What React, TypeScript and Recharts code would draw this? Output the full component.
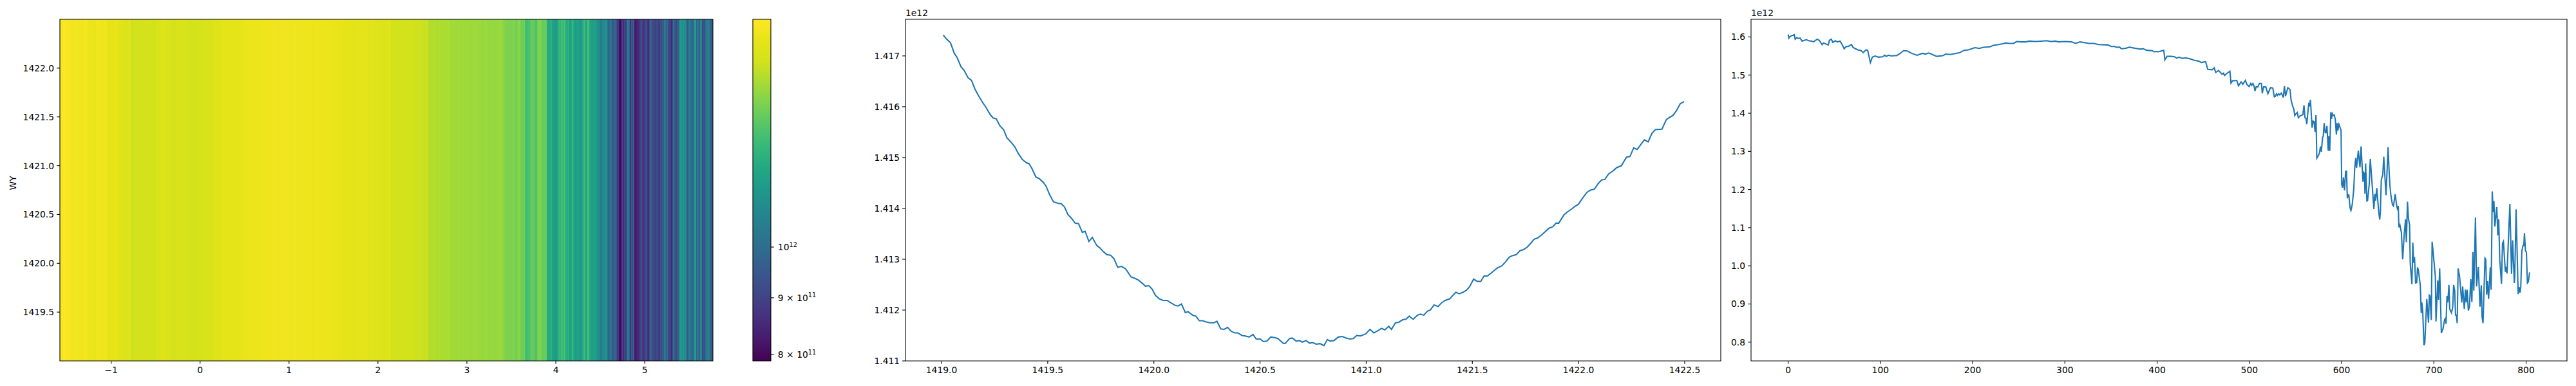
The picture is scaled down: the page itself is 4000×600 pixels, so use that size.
import React from "react";
import { ComposedChart, Line, XAxis, YAxis, ReferenceArea } from "recharts";

const FONT = "DejaVu Sans";
const FS = 13.89;
const BLUE = "#1f77b4";

// Right-hand panel: [index, value in 1e12]
const curveHead: [number, number][] = [
  [0,1.606],[0.8,1.597],[1.9,1.601],[6.6,1.606],[7.7,1.594],[9.4,1.598],[11.2,1.596],[12.9,1.597],[15.2,1.589],[19.8,1.593],[22.2,1.59],[25.7,1.589],[27.5,1.587],[31.5,1.594],[33.8,1.591],[36.8,1.58],[38.4,1.584],[43.6,1.579],[44.7,1.591],[46.8,1.594],[48.5,1.586],[51.2,1.59],[53.6,1.587],[56.4,1.589],[58.7,1.579],[60.8,1.569],[62.9,1.575],[65.2,1.575],[68.7,1.58],[70.3,1.573],[72.9,1.569],[75.7,1.566],[79.2,1.564],[81.5,1.559],[84.3,1.566],[86.2,1.565],[89.2,1.533],[91.3,1.547],[94.3,1.55],[97.8,1.547],[102.4,1.548],[104.8,1.552],[106.4,1.549],[108.7,1.552],[111.8,1.55],[115.2,1.551],[117.6,1.551],[121.1,1.556],[125.2,1.564],[129.2,1.563],[133.9,1.557],[139.7,1.552],[145.5,1.557],[149,1.555],[152.5,1.558],[157.1,1.553],[161.1,1.549],[167.6,1.551],[171.1,1.555],[175.7,1.554],[180.4,1.556],[186.2,1.559],[190.9,1.565],[195.5,1.566],[202.5,1.572],[207.2,1.57],[211.8,1.573],[218.8,1.574],[222.3,1.578],[228.1,1.58],
];
const curveCrest: [number, number][] = [
  [232.7,1.582],[236.2,1.584],[239.7,1.583],[244.3,1.583],[247.8,1.588],[252.5,1.587],[257.1,1.587],[261.8,1.589],[267.6,1.588],[274.6,1.589],[279.9,1.59],[285.1,1.588],[289.7,1.589],[293.2,1.587],[300.2,1.588],[307.2,1.587],[311.8,1.583],[316.5,1.587],[321.1,1.585],[325.8,1.583],[331.6,1.583],[336.3,1.58],[346.7,1.579],[350.2,1.575],[353.7,1.575],[356,1.573],[359.5,1.573],[361.1,1.569],[365.3,1.57],[370,1.573],[377,1.57],[381.6,1.568],[385.1,1.569],[388.6,1.565],[394.4,1.564],[396.8,1.561],[399.1,1.562],[401.4,1.561],[407.2,1.565],[408.4,1.54],[410.7,1.549],[415.4,1.549],[418.9,1.548],[421.2,1.544],[423.5,1.547],[427,1.544],[431.7,1.545],[436.3,1.542],[439.8,1.539],[445.6,1.536],[447.9,1.533],[452.6,1.535],[454.9,1.515],[459.6,1.514],[461.9,1.519],[463.5,1.507],[466.6,1.512],[470.1,1.503],[471.9,1.505],[473.1,1.499],[475.9,1.505],[478.9,1.51],[480.1,1.479],[481.7,1.485],[486.3,1.486],[488.2,1.472],[491,1.482],[492.9,1.476],[495.7,1.486],
];
const curveFall: [number, number][] = [
  [497.5,1.475],[499.8,1.47],[501.5,1.478],[502.6,1.473],[503.8,1.478],[505,1.472],[506.1,1.458],[507.3,1.469],[509.2,1.469],[510.8,1.478],[513.1,1.478],[514,1.452],[515.4,1.469],[517.8,1.469],[520.1,1.451],[522.9,1.467],[525.4,1.466],[527.1,1.443],[528.2,1.444],[529.4,1.451],[530.6,1.447],[531.7,1.451],[532.9,1.448],[534.7,1.453],[536.8,1.441],[538,1.471],[539.2,1.445],[541.7,1.467],[544.1,1.462],[545.2,1.435],[546.8,1.419],[548,1.413],[549.2,1.394],[550.3,1.398],[552,1.402],[553.1,1.388],[555,1.393],[558,1.396],[559.2,1.421],[560.3,1.388],[561.3,1.387],[562.2,1.371],[564.3,1.424],[565.2,1.421],[566.2,1.435],[568,1.362],[569,1.379],[570.1,1.378],[571.3,1.351],[572.2,1.395],[573.1,1.282],[574.8,1.289],[575.9,1.295],[577.1,1.313],[578,1.299],[579.4,1.337],[580.1,1.34],[581.1,1.374],[582.2,1.349],[583.2,1.349],[584.1,1.367],[585.5,1.302],[586.2,1.34],[587.1,1.301],[588.3,1.403],[589,1.385],[589.9,1.399],[590.8,1.394],[592,1.396],[593.2,1.383],[594.3,1.344],[595.2,1.374],[595.9,1.355],[597.1,1.371],[598,1.365],[599.4,1.355],[600.1,1.213],[601.1,1.205],[602,1.232],[603.2,1.198],[604.3,1.247],[605.3,1.248],[606.2,1.177],[606.9,1.186],[607.8,1.186],[609.2,1.152],[610.1,1.145],[611.5,1.16],[613.2,1.202],[614.1,1.253],[615.3,1.283],[616.2,1.257],[618.1,1.302],[619.9,1.258],[621.1,1.313],[623.2,1.22],[624.1,1.244],[624.8,1.241],[625.3,1.189],[626,1.268],[627.4,1.17],[628.1,1.171],[629.9,1.213],[631.1,1.28],[632.9,1.219],[635,1.149],[636,1.188],[636.9,1.171],[638.1,1.204],[639.2,1.171],[640.4,1.138],[641.3,1.121],[642,1.14],[643,1.225],[644.6,1.239],[645.7,1.286],
];
const curveNoisy: [number, number][] = [
  [648.1,1.185],[650.4,1.311],[651.6,1.2415],[652.3,1.213],[653.4,1.185],[655.1,1.16],[656.2,1.157],[658.1,1.188],[659.7,1.157],[660.9,1.146],[661.4,1.157],[662.1,1.101],[663.2,1.107],[664.8,1.087],[666.2,1.017],[667.9,1.084],[669.3,1.122],[670.2,1.062],[671.4,1.168],[672.5,1.123],[673.7,1.107],[674.4,1.006],[676.2,0.952],[677.2,1.061],[678.1,1.008],[679,1.023],[680.2,0.955],[681.4,0.956],[682.3,0.996],[683.2,0.989],[685.3,0.949],[686.3,0.876],[686.95,0.904],[687.9,0.882],[689.3,0.792],[690.2,0.798],[692.3,0.913],[694.2,0.851],[695.1,0.923],[695.8,0.921],[697.2,0.858],[698.1,1.063],[699.3,1.034],[701.6,0.972],[702.3,0.854],[704.2,0.962],[705.1,0.911],[706.3,0.993],[708.1,0.824],[709.8,0.834],[711.6,0.859],[712.5,0.862],[713.2,0.848],[714.2,0.921],[715.1,0.904],[716.3,0.95],[717.2,0.887],[719.1,0.877],[720.5,0.893],[721.4,0.95],[722.6,0.935],[723.5,0.871],[724.4,0.871],[725.3,0.85],[726.3,0.993],[727.9,0.972],[730.2,0.904],[731.2,0.946],[733,0.887],[734.2,0.938],[735.1,0.904],[736.1,0.937],[737.4,0.883],[738.6,0.893],[740,0.965],[741.2,0.905],[742.3,1.036],[743.3,0.935],[745.1,1.127],[746.3,0.946],[748.2,0.997],[750,0.893],[751.4,0.949],[752.3,0.865],[753.3,0.85],[755.4,1.02],[756.3,1.017],[757.2,0.924],[758.2,0.96],[759.3,0.913],[761.2,0.996],[762.1,0.937],[763.3,1.195],[764.2,1.141],[765.1,1.17],[766.1,1.103],[768.2,1.154],[769.3,1.08],[770.3,1.122],[771.4,1.017],[773.3,0.953],[774.4,1.059],[775.4,1.064],[777.5,0.984],[778.2,0.997],[779.3,0.98],[782.4,1.162],[784.2,0.979],[785.4,1.067],[787.2,0.955],[787.7,0.972],[789.1,1.148],[791.4,0.926],[792.6,0.944],[793.5,0.93],[794.2,0.944],[795.4,1.039],[796.6,1.053],[797.5,1.053],[798.2,1.086],[799.3,1.039],[800.3,1.036],[801.4,0.955],[802.4,0.958],[803.8,0.983],
];

// Middle panel: [WY, value in 1e12]
const wyDescent: [number, number][] = [
  [1419.008,1.41741],[1419.026,1.41732],[1419.042,1.41726],[1419.06,1.41705],[1419.073,1.41697],[1419.091,1.41679],[1419.107,1.41671],[1419.125,1.41657],[1419.141,1.41652],[1419.157,1.41635],[1419.175,1.41621],[1419.191,1.4161],[1419.209,1.41599],[1419.23,1.41584],[1419.243,1.41578],[1419.258,1.41576],[1419.274,1.41563],[1419.292,1.41555],[1419.308,1.41539],[1419.326,1.41531],[1419.345,1.41521],[1419.363,1.41507],[1419.381,1.41496],[1419.399,1.4149],[1419.412,1.41488],[1419.425,1.41479],[1419.444,1.41462],[1419.462,1.41458],[1419.48,1.41451],[1419.493,1.41443],[1419.509,1.41427],[1419.527,1.41413],[1419.548,1.4141],[1419.564,1.41409],[1419.579,1.41403],[1419.595,1.41388],[1419.613,1.4138],[1419.629,1.41371],[1419.645,1.4137],[1419.663,1.41353],[1419.676,1.41355],[1419.694,1.41335],[1419.71,1.41343],[1419.731,1.41327],[1419.744,1.41323],[1419.762,1.41315],[1419.778,1.41309],[1419.796,1.41308],[1419.812,1.41301],[1419.83,1.41284],[1419.848,1.41286],[1419.867,1.41281],[1419.893,1.41265],[1419.908,1.41263],[1419.927,1.41259],[1419.945,1.41253],[1419.96,1.41247],[1419.976,1.41248],[1419.992,1.41241],
];
const wyTrough: [number, number][] = [
  [1420.007,1.41229],[1420.026,1.41222],[1420.044,1.41219],[1420.062,1.41219],[1420.081,1.41214],[1420.101,1.41209],[1420.114,1.41208],[1420.13,1.41212],[1420.148,1.41195],[1420.161,1.41197],[1420.182,1.4119],[1420.198,1.41188],[1420.214,1.41179],[1420.229,1.41179],[1420.245,1.41177],[1420.263,1.41175],[1420.282,1.41175],[1420.297,1.41178],[1420.315,1.41163],[1420.331,1.41162],[1420.347,1.41166],[1420.365,1.41158],[1420.381,1.41155],[1420.396,1.41155],[1420.415,1.4115],[1420.43,1.41149],[1420.449,1.41147],[1420.467,1.41152],[1420.482,1.41143],[1420.501,1.41143],[1420.516,1.41138],[1420.532,1.41139],[1420.55,1.41147],[1420.569,1.41146],[1420.584,1.41144],[1420.608,1.41135],[1420.618,1.41134],[1420.639,1.41144],[1420.652,1.41145],[1420.67,1.41139],[1420.686,1.4114],[1420.699,1.41137],[1420.717,1.4114],[1420.733,1.41135],[1420.749,1.41136],[1420.764,1.41133],[1420.783,1.41134],[1420.801,1.4113],[1420.817,1.41142],[1420.83,1.41139],[1420.848,1.4114],[1420.869,1.41147],[1420.887,1.41148],[1420.906,1.41145],[1420.924,1.41143],[1420.939,1.41144],[1420.955,1.4115],[1420.973,1.41149],[1420.997,1.41153],
];
const wyAscent: [number, number][] = [
  [1421.018,1.41162],[1421.036,1.41155],[1421.057,1.4116],[1421.072,1.41164],[1421.088,1.41161],[1421.106,1.41168],[1421.119,1.41162],[1421.138,1.41175],[1421.153,1.41176],[1421.172,1.41181],[1421.187,1.41182],[1421.203,1.41188],[1421.221,1.41182],[1421.242,1.4119],[1421.255,1.41192],[1421.271,1.4119],[1421.289,1.41198],[1421.302,1.412],[1421.32,1.4121],[1421.339,1.41207],[1421.354,1.41214],[1421.372,1.41219],[1421.393,1.41222],[1421.422,1.41235],[1421.438,1.41232],[1421.456,1.41235],[1421.472,1.41239],[1421.487,1.41246],[1421.506,1.41261],[1421.521,1.41257],[1421.539,1.41256],[1421.555,1.41267],[1421.571,1.41267],[1421.589,1.41273],[1421.618,1.41283],[1421.639,1.41287],[1421.657,1.41295],[1421.673,1.41304],[1421.688,1.41307],[1421.707,1.41309],[1421.725,1.41317],[1421.741,1.41319],[1421.759,1.41324],[1421.774,1.41331],[1421.79,1.41339],[1421.808,1.41342],[1421.827,1.41348],[1421.845,1.41355],[1421.861,1.41361],[1421.879,1.41364],[1421.894,1.41371],[1421.907,1.41371],[1421.931,1.41387],[1421.947,1.41393],[1421.965,1.41398],[1421.983,1.41404],[1421.999,1.41408],
  [1422.022,1.41422],[1422.041,1.41432],[1422.056,1.41436],[1422.075,1.41438],[1422.093,1.41449],[1422.109,1.41456],[1422.124,1.41457],[1422.142,1.41468],[1422.161,1.41473],[1422.179,1.4148],[1422.202,1.41484],[1422.226,1.41501],[1422.242,1.41502],[1422.26,1.41519],[1422.276,1.41516],[1422.294,1.41526],[1422.31,1.41535],[1422.328,1.41531],[1422.346,1.41548],[1422.362,1.41555],[1422.393,1.41556],[1422.414,1.41575],[1422.429,1.41579],[1422.445,1.41583],[1422.461,1.41592],[1422.479,1.41606],[1422.497,1.4161],
];

// Colour map and colour bar
const viridisStops = ["#440154","#481a6c","#472f7d","#414487","#39568c","#31688e","#2a788e","#23888e","#1f988b","#22a884","#35b779","#54c568","#7ad151","#a5db36","#d2e21b","#e7e419","#fde725"];
const COLOR_MIN = 0.7894e12;
const COLOR_MAX = 1.605e12;
const colorbarTicks = [8e11, 9e11, 1e12];
const colorbarLabels = ["8 × 10", "9 × 10", "10"];
const colorbarExponents = ["11", "11", "12"];
// The right-hand curve's value and the colour position the same column shows in the heat map
const heatCurveLevels = [0.7894, 1.0, 1.15, 1.21, 1.3, 1.39, 1.44, 1.48, 1.515, 1.535, 1.55, 1.57, 1.59, 1.606];
const heatColourLevels = [0, 0.333, 0.51, 0.56, 0.66, 0.75, 0.785, 0.805, 0.83, 0.865, 0.88, 0.925, 0.965, 1];

// Axes
const heatXTicks = [-1, 0, 1, 2, 3, 4, 5];
const heatYTicks = [1419.5, 1420, 1420.5, 1421, 1421.5, 1422];
const wyXTicks = [1419, 1419.5, 1420, 1420.5, 1421, 1421.5, 1422, 1422.5];
const wyYTicks = [1.411, 1.412, 1.413, 1.414, 1.415, 1.416, 1.417];
const idxXTicks = [0, 100, 200, 300, 400, 500, 600, 700, 800];
const idxYTicks = [0.8, 0.9, 1.0, 1.1, 1.2, 1.3, 1.4, 1.5, 1.6];

const THETA_MIN = -1.576;
const THETA_MAX = 5.766;
const COLUMN_COUNT = 804;

const curvePoints = [...curveHead, ...curveCrest, ...curveFall, ...curveNoisy];
const curveRows = curvePoints.map(([i, v]) => ({ i, v }));
const wyRows = [...wyDescent, ...wyTrough, ...wyAscent].map(([wy, v]) => ({ wy, v }));

const hexToRgb = (h: string) => [1, 3, 5].map((k) => parseInt(h.slice(k, k + 2), 16));
function viridis(t: number) {
  const c = Math.min(1, Math.max(0, t)) * (viridisStops.length - 1);
  const a = Math.floor(c);
  const b = Math.min(viridisStops.length - 1, a + 1);
  const f = c - a;
  const A = hexToRgb(viridisStops[a]);
  const B = hexToRgb(viridisStops[b]);
  return `rgb(${A.map((x, k) => Math.round(x + (B[k] - x) * f)).join(",")})`;
}
function colourPosition(v: number) {
  for (let k = 1; k < heatCurveLevels.length; k++) {
    if (v <= heatCurveLevels[k]) {
      const f = (v - heatCurveLevels[k - 1]) / (heatCurveLevels[k] - heatCurveLevels[k - 1]);
      return heatColourLevels[k - 1] + f * (heatColourLevels[k] - heatColourLevels[k - 1]);
    }
  }
  return 1;
}
const toTheta = (i: number) => THETA_MIN + (i / COLUMN_COUNT) * (THETA_MAX - THETA_MIN);
const stripes = curvePoints.map(([i, v], k) => {
  const prev = k > 0 ? (curvePoints[k - 1][0] + i) / 2 : 0;
  const next = k < curvePoints.length - 1 ? (curvePoints[k + 1][0] + i) / 2 + 0.8 : COLUMN_COUNT;
  return {
    x1: toTheta(prev),
    x2: Math.min(THETA_MAX, toTheta(next)),
    fill: viridis(colourPosition(v)),
  };
});

const tickStyle = { fontFamily: FONT, fontSize: FS, fill: "#000" };
const lineStyle = { stroke: "#000", strokeWidth: 1.1 };
const TICK = 4.86;
const HEIGHT = 600;
const TOP = 30;
const XH = 39;

const OffsetText = ({ x }: { x: number }) => (
  <text x={x} y={25} fontFamily={FONT} fontSize={FS} fill="#000">1e12</text>
);

const Frame = ({ children, left, width }: any) => (
  <div style={{ position: "absolute", left, top: 0, width, height: HEIGHT }}>{children}</div>
);

const axisProps = {
  tick: tickStyle,
  tickLine: lineStyle,
  axisLine: false,
  tickSize: TICK,
  tickMargin: 4,
  interval: 0 as const,
  allowDataOverflow: true,
};

const ColorbarTick = ({ x, y, payload, index }: any) => {
  const k = colorbarTicks.indexOf(payload.value);
  return (
    <text x={x + 2} y={y + 5} fontFamily={FONT} fontSize={FS} fill="#000" key={index}>
      <tspan>{colorbarLabels[k]}</tspan>
      <tspan dy={-5.5} fontSize={9.7}>{colorbarExponents[k]}</tspan>
    </text>
  );
};

export default function App() {
  return (
    <div style={{ position: "absolute", left: 0, top: 0, width: 4000, height: HEIGHT, background: "#fff" }}>
      <Frame left={0} width={1130}>
        <ComposedChart width={1130} height={HEIGHT} data={curveRows} margin={{ top: TOP, right: 23, bottom: 0, left: 0 }}>
          <XAxis {...axisProps} type="number" dataKey="i" domain={[THETA_MIN, THETA_MAX]} ticks={heatXTicks} height={XH}
            tickFormatter={(v: number) => String(v).replace("-", "\u2212")} />
          <YAxis {...axisProps} type="number" domain={[1419, 1422.5]} ticks={heatYTicks} width={93}
            tickFormatter={(v: number) => v.toFixed(1)}
            label={{ value: "WY", angle: -90, position: "insideLeft", offset: 20, style: tickStyle }} />
          {stripes.map((s, k) => (
            <ReferenceArea key={k} x1={s.x1} x2={s.x2} y1={1419} y2={1422.5} fill={s.fill} fillOpacity={1} stroke="none" ifOverflow="visible" />
          ))}
          <ReferenceArea x1={THETA_MIN} x2={THETA_MAX} y1={1419} y2={1422.5} fill="none" stroke="#000" strokeWidth={1.1} ifOverflow="visible" />
        </ComposedChart>
      </Frame>

      <Frame left={1130} width={170}>
        <ComposedChart width={170} height={HEIGHT} data={curveRows} margin={{ top: TOP, right: 0, bottom: XH, left: 39 }}>
          <defs>
            <linearGradient id="viridisBar" x1="0" y1="1" x2="0" y2="0">
              {viridisStops.map((c, k) => (
                <stop key={k} offset={k / (viridisStops.length - 1)} stopColor={c} />
              ))}
            </linearGradient>
          </defs>
          <XAxis type="number" dataKey="i" domain={[0, 1]} allowDataOverflow hide />
          <YAxis {...axisProps} orientation="right" type="number" scale="log" domain={[COLOR_MIN, COLOR_MAX]} ticks={colorbarTicks} width={103} tick={<ColorbarTick />} />
          <ReferenceArea x1={0} x2={1} y1={COLOR_MIN} y2={COLOR_MAX} fill="url(#viridisBar)" fillOpacity={1} stroke="#000" strokeWidth={1.1} ifOverflow="visible" />
        </ComposedChart>
      </Frame>

      <Frame left={1330} width={1350}>
        <ComposedChart width={1350} height={HEIGHT} data={wyRows} margin={{ top: TOP, right: 8, bottom: 0, left: 0 }}>
          <XAxis {...axisProps} type="number" dataKey="wy" domain={[1418.83, 1422.67]} ticks={wyXTicks} height={XH}
            tickFormatter={(v: number) => v.toFixed(1)} />
          <YAxis {...axisProps} type="number" domain={[1.411, 1.41772]} ticks={wyYTicks} width={76}
            tickFormatter={(v: number) => v.toFixed(3)} />
          <ReferenceArea x1={1418.83} x2={1422.67} y1={1.411} y2={1.41772} fill="none" stroke="#000" strokeWidth={1.1} ifOverflow="visible" />
          <Line type="linear" dataKey="v" stroke={BLUE} strokeWidth={2.08} dot={false} isAnimationActive={false} />
          <OffsetText x={76} />
        </ComposedChart>
      </Frame>

      <Frame left={2680} width={1320}>
        <ComposedChart width={1320} height={HEIGHT} data={curveRows} margin={{ top: TOP, right: 14, bottom: 0, left: 0 }}>
          <XAxis {...axisProps} type="number" dataKey="i" domain={[-40.2, 844.3]} ticks={idxXTicks} height={XH} />
          <YAxis {...axisProps} type="number" domain={[0.7508, 1.6462]} ticks={idxYTicks} width={39}
            tickFormatter={(v: number) => v.toFixed(1)} />
          <ReferenceArea x1={-40.2} x2={844.3} y1={0.7508} y2={1.6462} fill="none" stroke="#000" strokeWidth={1.1} ifOverflow="visible" />
          <Line type="linear" dataKey="v" stroke={BLUE} strokeWidth={2.08} dot={false} isAnimationActive={false} />
          <OffsetText x={39} />
        </ComposedChart>
      </Frame>
    </div>
  );
}
